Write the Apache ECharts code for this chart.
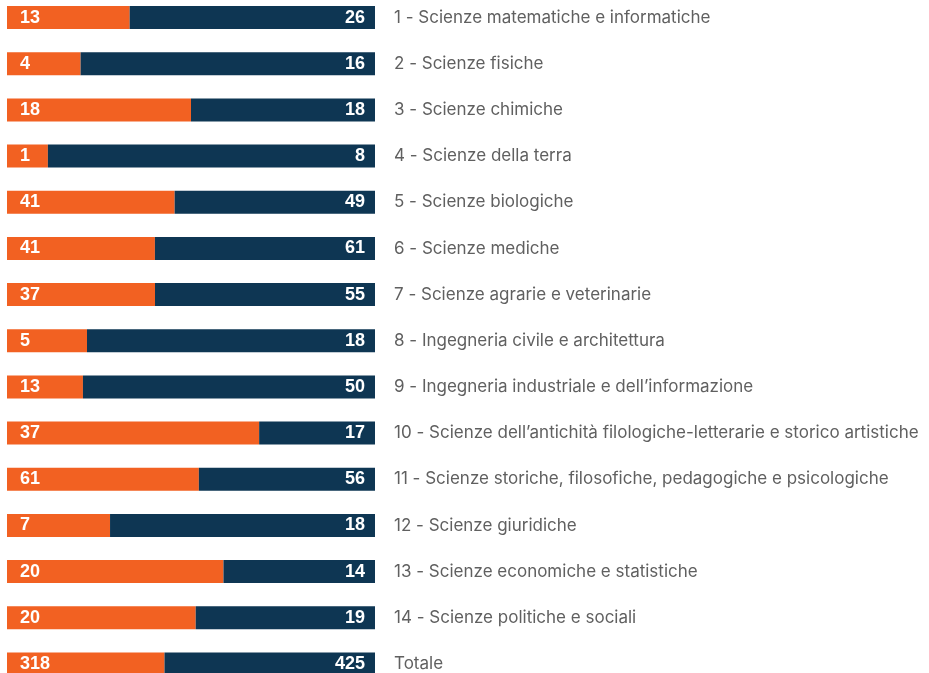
<!DOCTYPE html>
<html><head><meta charset="utf-8">
<script src="https://cdn.jsdelivr.net/npm/echarts@6/dist/echarts.min.js"></script>
<style>html,body{margin:0;padding:0;background:#fff;overflow:hidden;width:929px;height:673px}#c{position:absolute;left:0;top:-6px;width:929px;height:693px}</style>
</head><body><div id="c"></div>
<script>
const categories = [
  "1 - Scienze matematiche e informatiche",
  "2 - Scienze fisiche",
  "3 - Scienze chimiche",
  "4 - Scienze della terra",
  "5 - Scienze biologiche",
  "6 - Scienze mediche",
  "7 - Scienze agrarie e veterinarie",
  "8 - Ingegneria civile e architettura",
  "9 - Ingegneria industriale e dell’informazione",
  "10 - Scienze dell’antichità filologiche-letterarie e storico artistiche",
  "11 - Scienze storiche, filosofiche, pedagogiche e psicologiche",
  "12 - Scienze giuridiche",
  "13 - Scienze economiche e statistiche",
  "14 - Scienze politiche e sociali",
  "Totale"
];
const orangeValues = [13, 4, 18, 1, 41, 41, 37, 5, 13, 37, 61, 7, 20, 20, 318];
const navyValues   = [26, 16, 18, 8, 49, 61, 55, 18, 50, 17, 56, 18, 14, 19, 425];

const share = (a, b) => a.map((v, i) => ({ value: v / (v + b[i]) * 100, raw: v }));
const chart = echarts.init(document.getElementById('c'), null, { renderer: 'canvas' });
const labelFont = { color: '#fff', fontFamily: 'Liberation Sans, Arial, sans-serif', fontWeight: 'bold', fontSize: 18 };
chart.setOption({
  animation: false,
  grid: { left: 7, width: 368, top: 0.5, bottom: 0, containLabel: false },
  xAxis: { type: 'value', min: 0, max: 100, show: false },
  yAxis: {
    type: 'category', data: categories, inverse: true, position: 'right',
    axisLine: { show: false }, axisTick: { show: false },
    axisLabel: { margin: 19, color: '#606060', fontSize: 17, fontFamily: 'Inter, Roboto, sans-serif', align: 'left' }
  },
  series: [
    { type: 'bar', stack: 's', barWidth: 23, itemStyle: { color: '#F26122' },
      data: share(orangeValues, navyValues),
      label: { show: true, position: 'insideLeft', distance: 13, formatter: p => p.data.raw, ...labelFont } },
    { type: 'bar', stack: 's', barWidth: 23, itemStyle: { color: '#0E3653' },
      data: share(navyValues, orangeValues),
      label: { show: true, position: 'insideRight', distance: 10, formatter: p => p.data.raw, ...labelFont } }
  ]
});
</script></body></html>
